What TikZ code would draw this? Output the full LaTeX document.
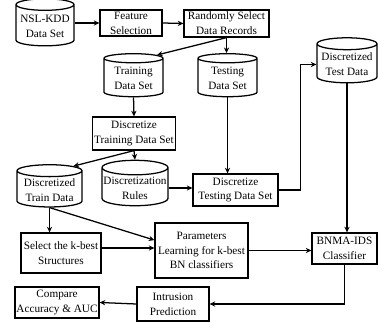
\documentclass[tikz,border=0pt]{standalone}
\usepackage{fontspec}
\setmainfont{Liberation Serif}
\usepackage{tikz}
\usetikzlibrary{positioning,arrows.meta,shapes.geometric}

\begin{document}
\begin{tikzpicture}[
  box/.style={draw, line width=0.9pt, align=center, inner sep=1pt, font=\fontsize{8}{10.5}\selectfont},
  db/.style={draw, line width=0.9pt, cylinder, shape border rotate=90, aspect=0.22, align=center, inner sep=1pt, font=\fontsize{8}{10.5}\selectfont},
  arr/.style={-{Stealth[length=1.4mm, width=1.3mm]}, line width=0.9pt}]
\useasboundingbox (0,0) rectangle (9.45,8.05);
% top row
\node[db, minimum width=14.5mm, minimum height=11.75mm] (nsl) at (1.125,7.39) {NSL-KDD\\Data Set};
\node[box, minimum width=15.5mm, minimum height=6.5mm] (feat) at (3.275,7.475) {Feature\\Selection};
\node[box, minimum width=21.25mm, minimum height=6.75mm] (rand) at (5.663,7.463) {Randomly Select\\Data Records};
\draw[arr] (nsl.east |- feat.west) -- (feat.west);
\draw[arr] (feat.east) -- (rand.west);
% split into train / test
\node[db, minimum width=14.75mm, minimum height=10.75mm] (train) at (3.338,6.088) {Training\\Data Set};
\node[db, minimum width=14.75mm, minimum height=10.75mm] (test) at (5.688,6.088) {Testing\\Data Set};
\node[db, minimum width=15mm, minimum height=11.25mm] (dtest) at (8.675,6.438) {Discretized\\Test Data};
\draw[arr] (rand.south) -- (train.north east);
\draw[arr] (rand.south) -- (rand.south |- test.north);
% discretization
\node[box, minimum width=20mm, minimum height=8.25mm] (dtrain) at (3.35,4.713) {Discretize\\Training Data Set};
\node[db, minimum width=16.25mm, minimum height=10mm] (traindata) at (1.238,3.3) {Discretized\\Train Data};
\node[db, minimum width=16mm, minimum height=10mm] (rules) at (3.375,3.35) {Discretization\\Rules};
\node[box, minimum width=21.25mm, minimum height=8mm] (dtestset) at (5.888,3.3) {Discretize\\Testing Data Set};
\draw[arr] (train.south) -- (dtrain.north);
\draw[arr] (dtrain.south) -- (rules.north);
\draw[arr] (dtrain.south) -- (traindata.north east);
\draw[arr] (rules.east) -- (rules.east -| dtestset.west);
\draw[arr] (test.south) -- (test.south |- dtestset.north);
\draw[arr] (dtestset.east) -- ++(0.55,0) |- (dtest.west);
% learning and classification
\node[box, minimum width=20mm, minimum height=10mm] (select) at (1.525,1.725) {Select the k-best\\Structures};
\node[box, minimum width=23.25mm, minimum height=13.75mm] (params) at (5.038,1.788) {Parameters\\Learning for k-best\\BN classifiers};
\node[box, minimum width=16.25mm, minimum height=7.75mm] (bnma) at (8.613,1.838) {BNMA-IDS\\Classifier};
\node[box, minimum width=21mm, minimum height=7.75mm] (compare) at (1.425,0.488) {Compare\\Accuracy \& AUC};
\node[box, minimum width=18mm, minimum height=8.5mm] (intr) at (4.325,0.45) {Intrusion\\Prediction};
\draw[arr] (traindata.south) -- (traindata.south |- select.north);
\draw[arr] (traindata.south) -- ([yshift=2.6mm]params.west);
\draw[arr] ([yshift=1.25mm]select.east) -- ([yshift=1.25mm]select.east -| params.west);
\draw[arr] (dtest.south) -- (dtest.south |- bnma.north);
\draw[arr] (params.east) -- (params.east -| bnma.west);
\draw[arr] (bnma.south) |- (intr.east);
\draw[arr] (intr.west) -- (compare.east);
\end{tikzpicture}
\end{document}
